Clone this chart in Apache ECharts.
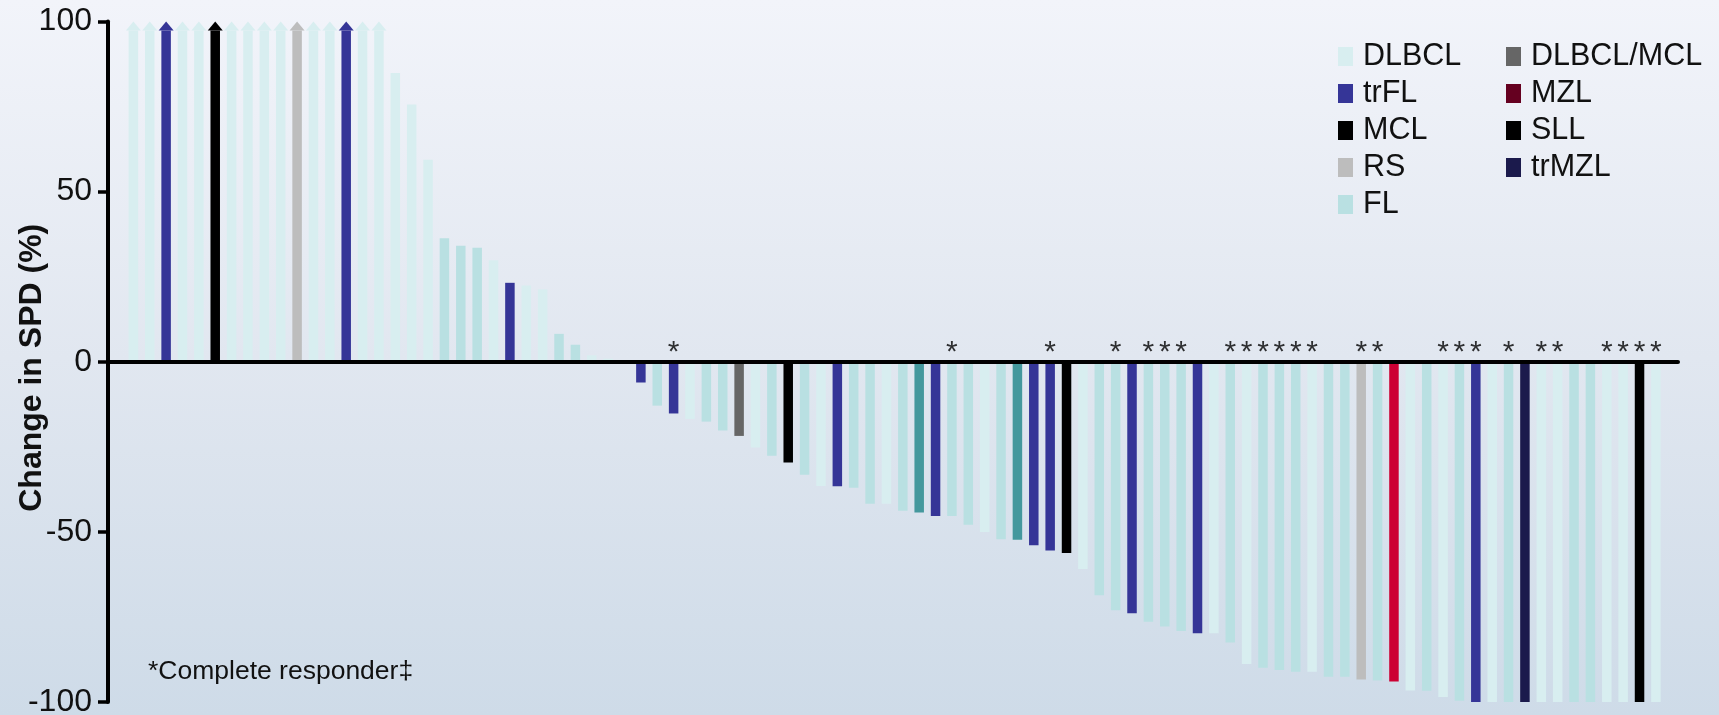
<!DOCTYPE html>
<html>
<head>
<meta charset="utf-8">
<script src="https://cdn.jsdelivr.net/npm/echarts@6/dist/echarts.min.js"></script>
<style>
  html, body { margin: 0; padding: 0; }
  #chart { width: 1719px; height: 715px; }
</style>
</head>
<body>
<div id="chart"></div>
<script>
// Best change in SPD per patient, sorted from largest increase to largest decrease.
// Values of 100 mean the increase was 100% or more (drawn with an arrow head).
const changes = [
  100, 100, 100, 100, 100, 100, 100, 100, 100, 100, 100, 100, 100, 100, 100, 100,
  84.9, 75.6, 59.4, 36.3, 34.1, 33.5, 29.8, 23.2, 22.4, 21.3, 8.2, 5.0, 1.9, 0.9, 0,
  -6.1, -12.9, -15.2, -16.8, -17.6, -20.2, -21.8, -25.2, -27.6, -29.6, -33.2, -36.5,
  -36.6, -37.0, -41.7, -41.7, -43.8, -44.3, -45.3, -45.3, -47.9, -50.0, -52.2, -52.3,
  -53.9, -55.5, -56.2, -60.9, -68.6, -73.0, -73.9, -76.4, -77.8, -79.1, -79.8, -79.8,
  -82.5, -88.8, -89.9, -90.6, -91.1, -91.1, -92.6, -92.6, -93.4, -93.7, -94.0, -96.6,
  -96.7, -98.5, -99.6, -100, -100, -100, -100, -100, -100, -100, -100, -100, -100,
  -100, -100
];

// Histology of each patient, same order as changes.
const histology = [
  'DLBCL', 'DLBCL', 'trFL', 'DLBCL', 'DLBCL', 'MCL', 'DLBCL', 'DLBCL', 'DLBCL', 'DLBCL',
  'RS', 'DLBCL', 'DLBCL', 'trFL', 'DLBCL', 'DLBCL',
  'DLBCL', 'DLBCL', 'DLBCL', 'FL', 'FL', 'FL', 'DLBCL', 'trFL', 'DLBCL', 'DLBCL', 'FL',
  'FL', 'DLBCL', 'DLBCL', 'DLBCL',
  'trFL', 'FL', 'trFL', 'DLBCL', 'FL', 'FL', 'DLBCL/MCL', 'DLBCL', 'FL', 'MCL', 'FL',
  'DLBCL', 'trFL', 'FL', 'FL', 'DLBCL', 'FL', 'Other', 'trFL', 'FL', 'FL', 'DLBCL', 'FL',
  'Other', 'trFL', 'trFL', 'MCL', 'DLBCL', 'FL', 'FL', 'trFL', 'FL', 'FL', 'FL', 'trFL',
  'DLBCL', 'FL', 'DLBCL', 'FL', 'FL', 'FL', 'DLBCL', 'FL', 'FL', 'RS', 'FL', 'MZL',
  'DLBCL', 'FL', 'DLBCL', 'FL', 'trFL', 'DLBCL', 'FL', 'trMZL', 'DLBCL', 'DLBCL', 'FL',
  'FL', 'DLBCL', 'DLBCL', 'SLL', 'DLBCL'
];

// Patients (by position) who were complete responders.
const completeResponders = [
  33, 50, 56, 60, 62, 63, 64, 67, 68, 69, 70, 71, 72, 75, 76, 80, 81, 82, 84, 86, 87,
  90, 91, 92, 93
];

const yTicks = [-100, -50, 0, 50, 100];

const legendLeft = ['DLBCL', 'trFL', 'MCL', 'RS', 'FL'];
const legendRight = ['DLBCL/MCL', 'MZL', 'SLL', 'trMZL'];

// Colours for bars and legend swatches.
const barColors = {
  'DLBCL': '#d8eef0',
  'trFL': '#353597',
  'MCL': '#000000',
  'RS': '#bdbdbd',
  'FL': '#b9e0e2',
  'DLBCL/MCL': '#666666',
  'MZL': '#cc0033',
  'SLL': '#000000',
  'trMZL': '#1b1a4c',
  'Other': '#44989d'
};
const swatchColors = Object.assign({}, barColors, { 'MZL': '#650020' });

const FONT = '"Liberation Sans", Arial, sans-serif';
const BAR_W = 9.5;
const ARROW_W = 15;
const ARROW_H = 9;

function renderBar(params, api) {
  const i = api.value(0);
  const v = api.value(1);
  const color = api.visual('color');
  const base = api.coord([i, 0]);
  const end = api.coord([i, Math.min(v, 100)]);
  const x = base[0];
  if (v >= 100) {
    const tipY = end[1];
    const neckY = tipY + ARROW_H;
    return {
      type: 'group',
      children: [
        { type: 'rect', shape: { x: x - BAR_W / 2, y: neckY, width: BAR_W, height: base[1] - neckY }, style: { fill: color } },
        { type: 'polygon', shape: { points: [[x - ARROW_W / 2, neckY], [x, tipY], [x + ARROW_W / 2, neckY]] }, style: { fill: color } }
      ]
    };
  }
  return {
    type: 'rect',
    shape: { x: x - BAR_W / 2, y: Math.min(base[1], end[1]), width: BAR_W, height: Math.abs(end[1] - base[1]) },
    style: { fill: color }
  };
}

const seriesNames = Object.keys(barColors);
const series = seriesNames.map(function (name) {
  const data = [];
  changes.forEach(function (v, i) {
    if (histology[i] === name) data.push([i, v]);
  });
  return {
    name: name,
    type: 'custom',
    renderItem: renderBar,
    itemStyle: { color: barColors[name] },
    data: data,
    z: 2
  };
});

series.push({
  name: 'Complete responder',
  type: 'scatter',
  symbolSize: 0,
  silent: true,
  data: completeResponders.map(function (i) { return [i, 0]; }),
  label: {
    show: true,
    position: 'inside',
    formatter: '*',
    offset: [0, -9],
    color: '#000',
    fontSize: 30,
    fontFamily: FONT
  },
  z: 5
});

function legendBlock(names, left) {
  return {
    orient: 'vertical',
    left: left,
    top: 36,
    itemWidth: 15,
    itemHeight: 19,
    itemGap: 6,
    icon: 'rect',
    selectedMode: false,
    textStyle: { fontSize: 30.5, color: '#111', fontFamily: FONT, lineHeight: 29, padding: [0, 0, 0, 5] },
    data: names.map(function (n) { return { name: n, itemStyle: { color: swatchColors[n] } }; })
  };
}

const chart = echarts.init(document.getElementById('chart'), null, { renderer: 'canvas' });
chart.setOption({
  animation: false,
  backgroundColor: {
    type: 'linear', x: 0, y: 0, x2: 0, y2: 1,
    colorStops: [
      { offset: 0, color: '#f2f4fa' },
      { offset: 0.5, color: '#e1e7f0' },
      { offset: 1, color: '#cedbe8' }
    ]
  },
  grid: { left: 108, right: 41, top: 21.5, bottom: 13, containLabel: false, outerBoundsMode: 'none' },
  legend: [legendBlock(legendLeft, 1333), legendBlock(legendRight, 1501)],
  xAxis: {
    type: 'value',
    min: -1.55,
    max: 94.35,
    z: 10,
    axisLine: { show: true, onZero: true, lineStyle: { color: '#000', width: 4 } },
    axisTick: { show: false },
    axisLabel: { show: false },
    splitLine: { show: false }
  },
  yAxis: {
    type: 'value',
    min: yTicks[0],
    max: yTicks[yTicks.length - 1],
    interval: 50,
    z: 10,
    name: 'Change in SPD (%)',
    nameLocation: 'middle',
    nameGap: 60,
    nameRotate: 90,
    nameMoveOverlap: false,
    nameTextStyle: { fontSize: 32, fontWeight: 'bold', color: '#111', fontFamily: FONT, padding: [0, 12, 0, 0] },
    axisLine: { show: true, onZero: false, lineStyle: { color: '#000', width: 4 } },
    axisTick: { show: true, inside: false, length: 10, lineStyle: { color: '#000', width: 3.5 } },
    axisLabel: { fontSize: 32, color: '#111', fontFamily: FONT, margin: 16 },
    splitLine: { show: false }
  },
  graphic: [{
    type: 'text',
    left: 148,
    top: 658,
    style: { text: '*Complete responder\u2021', fontSize: 26.5, fill: '#111', font: '26.5px ' + FONT }
  }],
  series: series
});
</script>
</body>
</html>
